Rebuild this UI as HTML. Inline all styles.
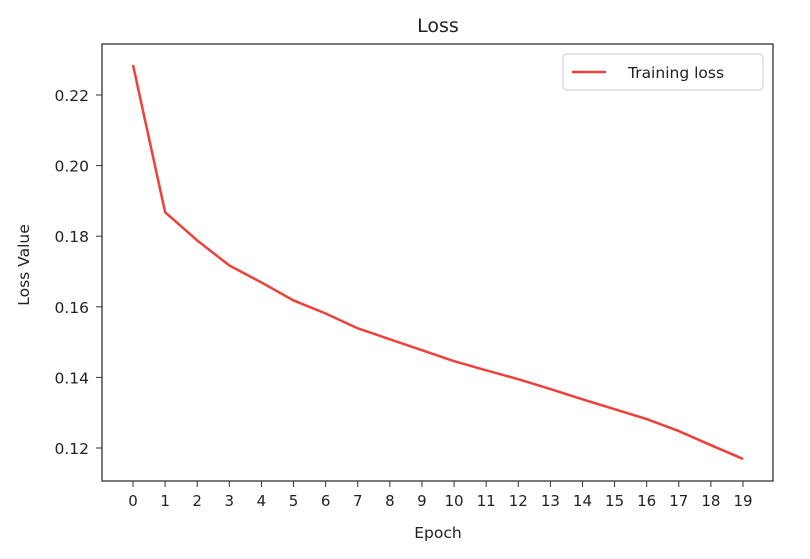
<!DOCTYPE html>
<html><head><meta charset="utf-8"><style>
body{margin:0;background:#fff;}
svg{font-family:"DejaVu Sans","Liberation Sans",sans-serif;}
</style></head><body>
<svg id="chart" width="810" height="554" viewBox="0 0 810 554" xmlns="http://www.w3.org/2000/svg">
<rect width="810" height="554" fill="#fff"/>
<text x="438" y="32" font-size="19" text-anchor="middle" fill="#222">Loss</text>
<g id="ticks"></g>
<polyline id="line" fill="none" stroke="#f0403a" stroke-width="2.5"/>
<rect x="102" y="44" width="671" height="437" fill="none" stroke="#333" stroke-width="1.3"/>
<text x="438" y="538" font-size="15.5" text-anchor="middle" fill="#222">Epoch</text>
<text x="29" y="265" font-size="15.5" text-anchor="middle" fill="#222" transform="rotate(-90 29 265)">Loss Value</text>
<g>
<rect x="563" y="54" width="200" height="36" rx="4" fill="#fff" stroke="#ccc"/>
<line x1="572" y1="72" x2="606" y2="72" stroke="#f0403a" stroke-width="2.5"/>
<text x="628" y="78" font-size="15.5" fill="#222">Training loss</text>
</g>
</svg>
<script>
const epochs=[0,1,2,3,4,5,6,7,8,9,10,11,12,13,14,15,16,17,18,19];
const loss=[0.2285,0.1868,0.1788,0.1717,0.1669,0.1618,0.1581,0.1539,0.1508,0.1477,0.1446,0.1420,0.1395,0.1367,0.1338,0.1310,0.1282,0.1248,0.1208,0.1169];
const yTicks=[0.12,0.14,0.16,0.18,0.20,0.22];
const xs=e=>133+e*(743-133)/19;
const ys=v=>95+(0.22-v)*(448-95)/0.10;
const ns="http://www.w3.org/2000/svg";
const g=document.getElementById('ticks');
function mk(t,a){const el=document.createElementNS(ns,t);for(const k in a)el.setAttribute(k,a[k]);return el;}
epochs.forEach(e=>{
 const l=mk('line',{x1:xs(e),x2:xs(e),y1:481,y2:487,stroke:'#333'});
 
 
 g.appendChild(l);
 const t=mk('text',{x:xs(e),y:506,'font-size':15,'text-anchor':'middle',fill:'#222'});
 
 
 t.textContent=e;g.appendChild(t);
});
yTicks.forEach(v=>{
 const l=mk('line',{x1:96,x2:102,y1:ys(v),y2:ys(v),stroke:'#333'});
 
 
 g.appendChild(l);
 const t=mk('text',{x:89,y:ys(v)+6,'font-size':15.5,'text-anchor':'end',fill:'#222'});
 
 
 t.textContent=v.toFixed(2);g.appendChild(t);
});
document.getElementById('line').setAttribute('points',epochs.map((e,i)=>xs(e)+','+ys(loss[i])).join(' '));
</script>
</body></html>
